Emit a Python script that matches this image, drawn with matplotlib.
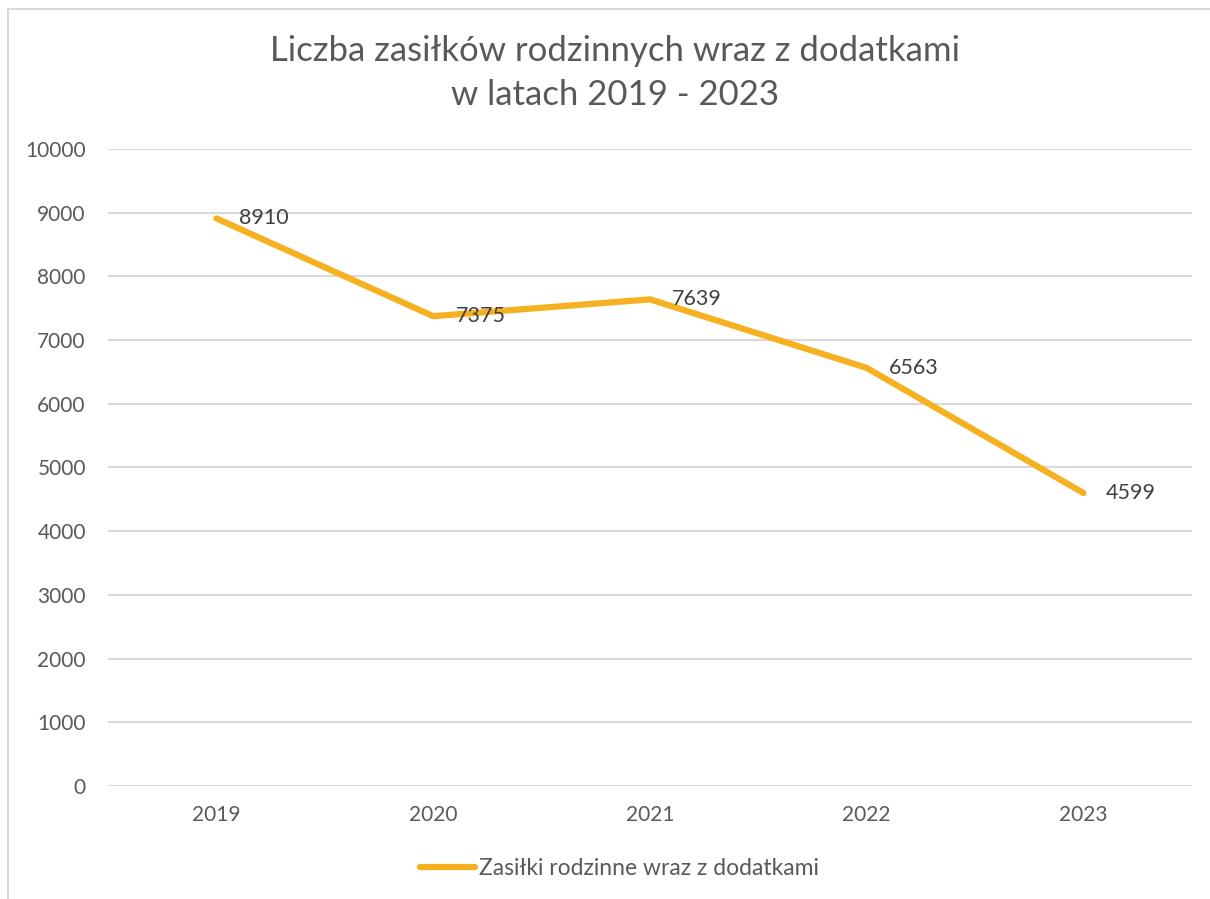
import matplotlib
matplotlib.use('Agg')
import matplotlib.pyplot as plt
from matplotlib.patches import Rectangle

# data
years = ['2019', '2020', '2021', '2022', '2023']
values = [8910, 7375, 7639, 6563, 4599]
series_name = 'Zasiłki rodzinne wraz z dodatkami'
title = 'Liczba zasiłków rodzinnych wraz z dodatkami\nw latach 2019 - 2023'

TEXT = '#595959'
LINE = '#F5B120'
GRID = '#D9D9D9'

plt.rcParams['font.family'] = ['Lato', 'DejaVu Sans']

fig = plt.figure(figsize=(12.1, 8.99), dpi=100)
ax = fig.add_axes([0.0893, 0.1257, 0.8957, 0.7086])

# chart border (only top/left visible in the reference)
fig.patches.append(Rectangle((8 / 1210, -0.05), 1.2, 1 - 9 / 899 + 0.05,
                             transform=fig.transFigure, fill=False,
                             edgecolor=GRID, linewidth=1.5))

x = list(range(len(years)))
line, = ax.plot(x, values, color=LINE, linewidth=4.5, solid_capstyle='round',
                label=series_name)

for xi, v in zip(x, values):
    ax.annotate(str(v), (xi, v), xytext=(16, 0), textcoords='offset points',
                ha='left', va='center', fontsize=15.5, color='#404040')

ax.set_xlim(-0.5, len(years) - 0.5)
ax.set_ylim(0, 10000)
ax.set_yticks(range(0, 10001, 1000))
ax.set_xticks(x)
ax.set_xticklabels(years)
ax.tick_params(axis='both', length=0, labelsize=15, colors=TEXT)
ax.tick_params(axis='x', pad=14)
ax.tick_params(axis='y', pad=16)
ax.grid(axis='y', color=GRID, linewidth=1.5)
ax.set_axisbelow(True)
for s in ax.spines.values():
    s.set_visible(False)

fig.text(0.508, 0.919, title, ha='center', va='center', fontsize=25,
         color=TEXT, linespacing=1.45)

fig.legend(handles=[line], loc='center', bbox_to_anchor=(0.512, 0.034),
           frameon=False, fontsize=16.5, labelcolor=TEXT, handlelength=2.4,
           handletextpad=0.15)

fig.savefig('out.png', dpi=100)
